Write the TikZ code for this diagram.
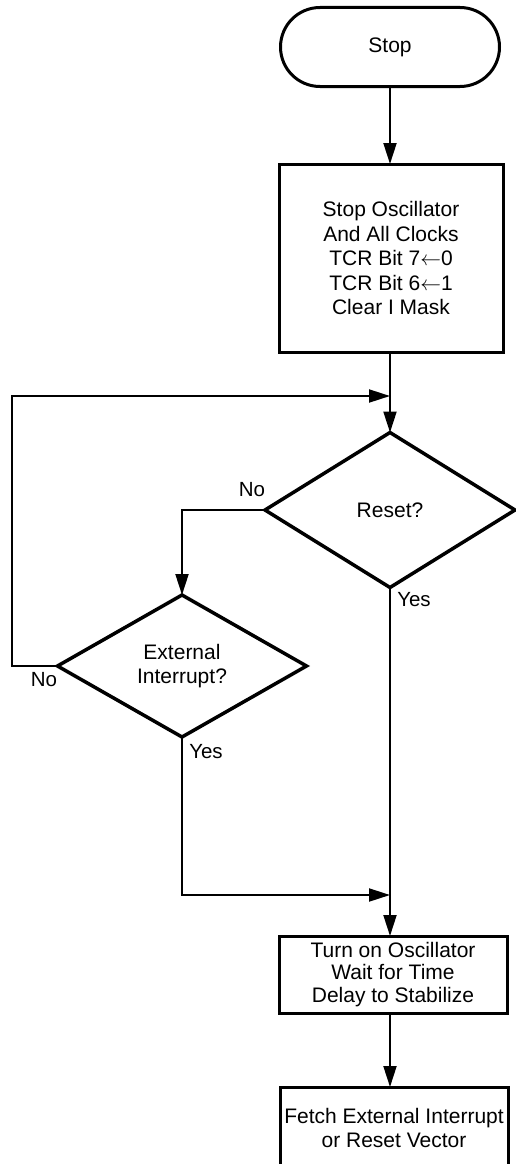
\documentclass[tikz,border=0pt]{standalone}
\usepackage{fontspec}
\setmainfont{Liberation Sans}
\usetikzlibrary{arrows.meta,shapes.geometric}
\newcommand{\setto}{$\leftarrow$}
\begin{document}
\begin{tikzpicture}[x=1pt,y=-1pt,inner sep=0pt,outer sep=0pt,line width=2pt,
>={Triangle[length=21pt,width=13pt]},
txt/.style={font=\fontsize{21}{24.5}\selectfont,align=center},
terminal/.style={draw,txt,rectangle,rounded corners=39.5pt,minimum width=219pt,minimum height=79pt,line width=3pt},
procbox/.style={draw,txt,rectangle,line width=3pt},
decision/.style={draw,txt,diamond,line width=3.5pt},
lbl/.style={font=\fontsize{20.5}{24}\selectfont}]

\useasboundingbox (0,0) rectangle (515,1164);

\draw (390,47) node[terminal] (stop) {Stop};
\draw (391,258) node[procbox,minimum width=224pt,minimum height=188pt] (clk)
  {Stop Oscillator\\And All Clocks\\TCR Bit 7\setto0\\TCR Bit 6\setto1\\Clear I Mask};
\draw (390,510) node[decision,minimum width=250pt,minimum height=155pt] (reset) {Reset?};
\draw (182,666) node[decision,minimum width=249pt,minimum height=142pt] (ext) {External\\Interrupt?};
\draw (393,974.5) node[procbox,minimum width=228pt,minimum height=77pt,
  font=\fontsize{21}{22.5}\selectfont] (osc) {Turn on Oscillator\\Wait for Time\\Delay to Stabilize};
\draw (394,1128) node[procbox,minimum width=228pt,minimum height=82pt] (fetch)
  {Fetch External Interrupt\\or Reset Vector};

\coordinate (jtop) at (390,396);
\coordinate (jbot) at (390,895);

\draw[->] (stop.south) -- (clk.north -| stop.south);
\draw[->] (clk.south -| reset.north) -- (reset.north);
\draw[->] (ext.west) -- ++(-46,0) |- (jtop);
\draw[->] (reset.west) -| (ext.north);
\draw[->] (reset.south) -- (osc.north -| reset.south);
\draw[->] (ext.south) |- (jbot);
\draw[->] (osc.south -| reset.south) -- (fetch.north -| reset.south);

\draw (252,490) node[lbl] (rno) {No};
\draw (414,600) node[lbl] (ryes) {Yes};
\draw (44,680) node[lbl] (eno) {No};
\draw (206,752) node[lbl] (eyes) {Yes};

\end{tikzpicture}
\end{document}
